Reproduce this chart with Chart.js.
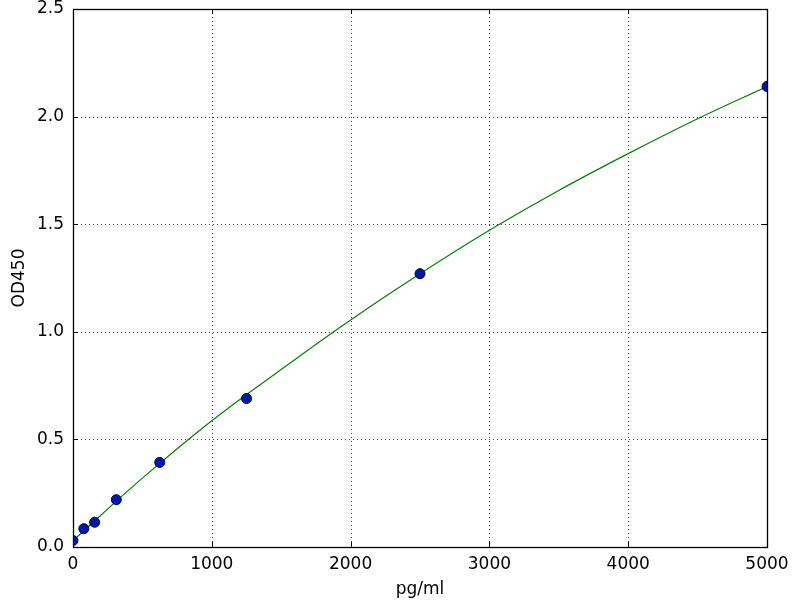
<!DOCTYPE html>
<html>
<head>
<meta charset="utf-8">
<script src="https://cdn.jsdelivr.net/npm/chart.js@4/dist/chart.umd.min.js"></script>
<style>
html,body{margin:0;padding:0;background:#fff;}
#wrap{width:800px;height:600px;position:relative;}
</style>
</head>
<body>
<div id="wrap"><canvas id="c" width="800" height="600"></canvas></div>
<script>
// Standard points
const stdConc = [0, 78, 156, 312, 625, 1250, 2500, 5000];
const stdOD = [0.03, 0.085, 0.115, 0.22, 0.393, 0.69, 1.27, 2.14];
// Fitted curve
const curveConc = [0, 500, 1000, 1500, 2000, 2500, 3000, 3500, 4000, 4500, 5000];
const curveOD = [0.03, 0.32, 0.587, 0.825, 1.055, 1.27, 1.472, 1.657, 1.828, 1.99, 2.14];
const xTicks = [0, 1000, 2000, 3000, 4000, 5000];
const yTicks = [0.0, 0.5, 1.0, 1.5, 2.0, 2.5];
const xTitle = 'pg/ml';
const yTitle = 'OD450';

const FONT = 'DejaVu Sans';

const framePlugin = {
  id: 'frame',
  beforeDatasetsDraw(chart) {
    const ctx = chart.ctx, a = chart.chartArea;
    const xs = chart.scales.x, ys = chart.scales.y;
    ctx.save();
    ctx.strokeStyle = 'rgba(0,0,0,0.75)';
    ctx.lineWidth = 1;
    ctx.setLineDash([1, 3]);
    xTicks.forEach(v => {
      const px = Math.round(xs.getPixelForValue(v)) + 0.5;
      if (px <= a.left + 1 || px >= a.right - 1) return;
      ctx.beginPath(); ctx.moveTo(px, a.top); ctx.lineTo(px, a.bottom); ctx.stroke();
    });
    yTicks.forEach(v => {
      const py = Math.round(ys.getPixelForValue(v)) + 0.5;
      if (py <= a.top + 1 || py >= a.bottom - 1) return;
      ctx.beginPath(); ctx.moveTo(a.left, py); ctx.lineTo(a.right, py); ctx.stroke();
    });
    ctx.restore();
  },
  afterDatasetsDraw(chart) {
    const ctx = chart.ctx, a = chart.chartArea;
    const xs = chart.scales.x, ys = chart.scales.y;
    ctx.save();
    ctx.strokeStyle = '#000';
    ctx.lineWidth = 1;
    ctx.setLineDash([]);
    const tl = 5;
    xTicks.forEach(v => {
      const px = Math.round(xs.getPixelForValue(v)) + 0.5;
      ctx.beginPath();
      ctx.moveTo(px, a.bottom); ctx.lineTo(px, a.bottom - tl);
      ctx.moveTo(px, a.top); ctx.lineTo(px, a.top + tl);
      ctx.stroke();
    });
    yTicks.forEach(v => {
      const py = Math.round(ys.getPixelForValue(v)) + 0.5;
      ctx.beginPath();
      ctx.moveTo(a.left, py); ctx.lineTo(a.left + tl, py);
      ctx.moveTo(a.right, py); ctx.lineTo(a.right - tl, py);
      ctx.stroke();
    });
    ctx.lineWidth = 1.3;
    ctx.strokeRect(Math.round(a.left) + 0.5, Math.round(a.top) + 0.5,
      Math.round(a.right - a.left), Math.round(a.bottom - a.top));
    ctx.restore();
  }
};

new Chart(document.getElementById('c'), {
  type: 'scatter',
  data: {
    datasets: [
      {
        type: 'line',
        data: curveConc.map((x, i) => ({x: x, y: curveOD[i]})),
        borderColor: '#008000',
        borderWidth: 1.2,
        pointRadius: 0,
        tension: 0.4,
        fill: false,
        clip: 0,
        order: 2
      },
      {
        data: stdConc.map((x, i) => ({x: x, y: stdOD[i]})),
        backgroundColor: '#0018b0',
        borderColor: '#000033',
        borderWidth: 1,
        pointRadius: 5,
        clip: 0,
        order: 1
      }
    ]
  },
  options: {
    responsive: false,
    animation: false,
    devicePixelRatio: 1,
    layout: {padding: {top: 9, right: 33, left: 0, bottom: 0}},
    plugins: {legend: {display: false}, tooltip: {enabled: false}},
    scales: {
      x: {
        type: 'linear', min: 0, max: 5000,
        afterBuildTicks(s) { s.ticks = xTicks.map(v => ({value: v})); },
        afterFit(s) { s.height = 53; s.paddingLeft = 0; s.paddingRight = 0; },
        grid: {display: false, drawTicks: false},
        border: {display: false},
        ticks: {color: '#000', font: {family: FONT, size: 17}, padding: 7,
          callback: v => String(v)},
        title: {display: true, text: xTitle, color: '#000', font: {family: FONT, size: 17}, padding: {top: 0, bottom: 0}}
      },
      y: {
        type: 'linear', min: 0, max: 2.5,
        afterBuildTicks(s) { s.ticks = yTicks.map(v => ({value: v})); },
        afterFit(s) { s.width = 73; s.paddingTop = 0; s.paddingBottom = 0; },
        grid: {display: false, drawTicks: false},
        border: {display: false},
        ticks: {color: '#000', font: {family: FONT, size: 17}, padding: 9,
          callback: v => Number(v).toFixed(1)},
        title: {display: true, text: yTitle, color: '#000', font: {family: FONT, size: 17}, padding: {top: 9, bottom: 4}}
      }
    }
  },
  plugins: [framePlugin]
});
</script>
</body>
</html>
